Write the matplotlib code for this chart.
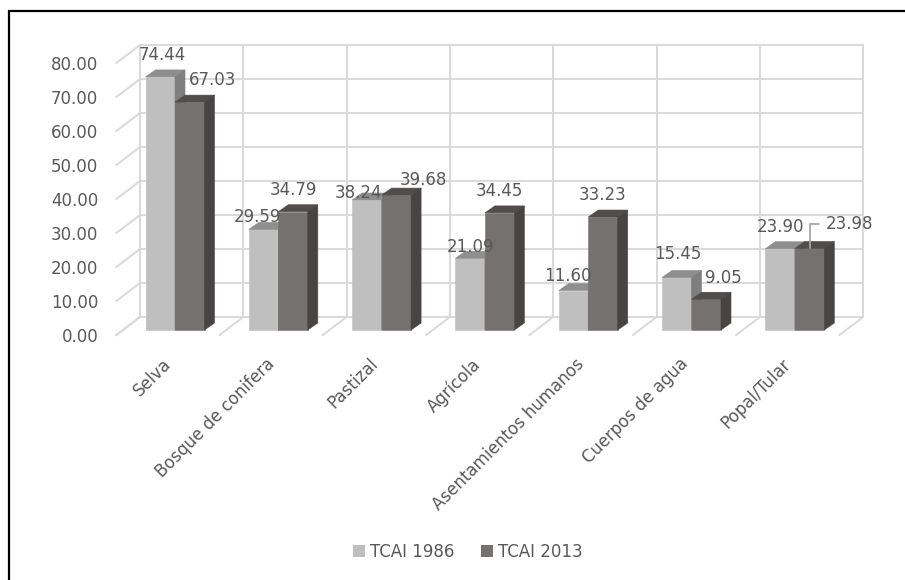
import matplotlib.pyplot as plt
from matplotlib.patches import Polygon, Rectangle, Patch

categorias = ["Selva", "Bosque de conifera", "Pastizal", "Agrícola",
              "Asentamientos humanos", "Cuerpos de agua", "Popal/Tular"]
tcai_1986 = [74.44, 29.59, 38.24, 21.09, 11.60, 15.45, 23.90]
tcai_2013 = [67.03, 34.79, 39.68, 34.45, 33.23, 9.05, 23.98]
series = ["TCAI 1986", "TCAI 2013"]
y_ticks = [0, 10, 20, 30, 40, 50, 60, 70, 80]

# label nudges in pixels, relative to the top of each bar
off_1986 = [(2, 22), (-6, 12), (-8, 7), (0, 11), (-6, 15), (1, 23), (0, 22)]
off_2013 = [(23, 22), (0, 22), (27, 15), (0, 22), (0, 22), (17, 21), (40, 24)]

plt.rcParams['font.family'] = ['DejaVu Sans']
TXT = '#595959'
GRID = '#D9D9D9'
FS = 12
# (front, top, side) shades for each series
C86 = ('#BFBFBF', '#8E8E8E', '#7F7F7F')
C13 = ('#767171', '#524D4D', '#484444')

W, H = 905, 580
PX, PY = 103.3, 3.4        # pixels per category / per value unit
X0, Y0 = 175, 330          # pixel of category 0, value 0 (bar plane)
BW = 29.5 / PX             # bar width
BDX, BDY = 10 / PX, 7 / PY          # bar depth
BKX, BKY = -0.5 + 16.65 / PX, 13 / PY   # back wall offset
FRX, FRY = -0.5 - 7 / PX, -5 / PY       # front edge offset

fig = plt.figure(figsize=(W / 100, H / 100), dpi=100)
ax = fig.add_axes([0, 0, 1, 1])
ax.axis('off')
ax.set_xlim(-X0 / PX, (W - X0) / PX)
ax.set_ylim((Y0 - H) / PY, Y0 / PY)

n = len(categorias)
top = max(y_ticks)

# back wall grid
for v in y_ticks:
    ax.plot([BKX, BKX + n], [v + BKY, v + BKY], color=GRID, lw=1.4, zorder=1)
    # side wall lines
    ax.plot([FRX, BKX], [v + FRY, v + BKY], color=GRID, lw=1.4, zorder=1)
    ax.text(FRX - 18 / PX, v + FRY - 2 / PY, f"{v:.2f}", ha='right',
            va='center', fontsize=FS, color=TXT)
for k in range(n + 1):
    ax.plot([BKX + k, BKX + k], [BKY, top + BKY], color=GRID, lw=1.4, zorder=1)
    # floor lines
    ax.plot([FRX + k, BKX + k], [FRY, BKY], color=GRID, lw=1.4, zorder=1)


def bar3d(x0, v, cols, z):
    front, topc, side = cols
    ax.add_patch(Polygon([(x0, 0), (x0 + BW, 0), (x0 + BW, v), (x0, v)],
                         fc=front, ec=front, lw=0.4, zorder=z))
    ax.add_patch(Polygon([(x0, v), (x0 + BW, v), (x0 + BW + BDX, v + BDY),
                          (x0 + BDX, v + BDY)],
                         fc=topc, ec=topc, lw=0.4, zorder=z))
    ax.add_patch(Polygon([(x0 + BW, 0), (x0 + BW + BDX, BDY),
                          (x0 + BW + BDX, v + BDY), (x0 + BW, v)],
                         fc=side, ec=side, lw=0.4, zorder=z))


for i in range(n):
    bar3d(i - BW, tcai_1986[i], C86, 3 + 2 * i)
    bar3d(i, tcai_2013[i], C13, 4 + 2 * i)

    ax.annotate(f"{tcai_1986[i]:.2f}", xy=(i - BW / 2, tcai_1986[i]),
                xytext=off_1986[i], textcoords='offset pixels',
                ha='center', va='center', fontsize=FS, color=TXT, zorder=30)
    arrow = None
    if i == n - 1:
        arrow = dict(arrowstyle='-', color='#A6A6A6', lw=1.3,
                     connectionstyle='angle,angleA=0,angleB=90,rad=0',
                     shrinkA=3, shrinkB=0)
    ax.annotate(f"{tcai_2013[i]:.2f}", xy=(i + BW / 2, tcai_2013[i]),
                xytext=off_2013[i], textcoords='offset pixels',
                ha='center', va='center', fontsize=FS, color=TXT, zorder=30,
                arrowprops=arrow)

    ax.text(i + FRX + 0.5 - 6 / PX, (Y0 - 355) / PY, categorias[i],
            rotation=45, rotation_mode='anchor', ha='right', va='top',
            fontsize=FS, color=TXT)

handles = [Patch(fc=C86[0], ec='none'), Patch(fc=C13[0], ec='none')]
fig.legend(handles, series, loc='center', bbox_to_anchor=(0.517, 1 - 552 / H),
           ncol=2, frameon=False, fontsize=FS, labelcolor=TXT,
           handlelength=0.7, handleheight=0.7, handletextpad=0.3,
           columnspacing=1.6)

# chart border, open towards the right and bottom
fig.add_artist(Rectangle((9 / W, -0.1), 1.2, 1 - 11 / H + 0.1, fill=False,
                         ec='black', lw=1.6, transform=fig.transFigure))

fig.savefig('out.png', dpi=100)
